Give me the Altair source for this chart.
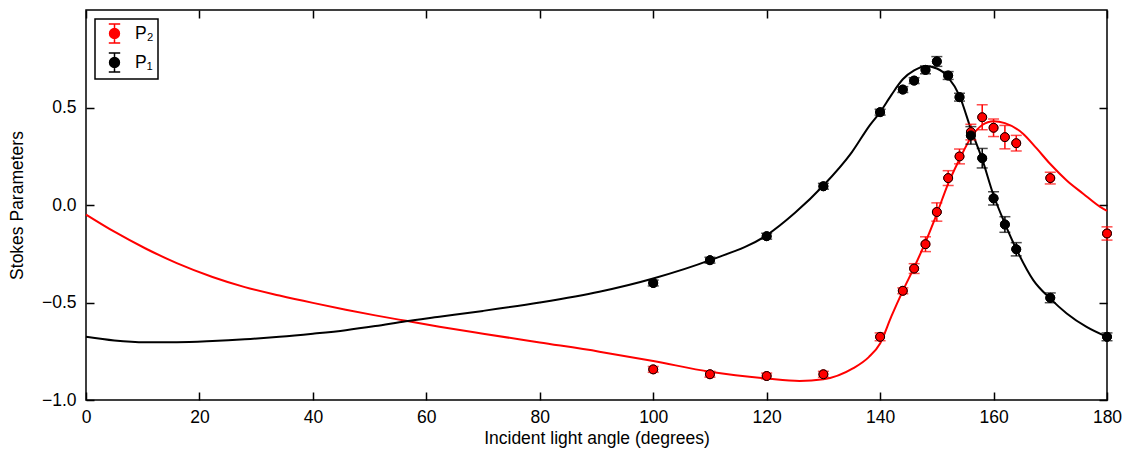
import altair as alt
import pandas as pd

# ---- measured data ----
angles = [100, 110, 120, 130, 140, 144, 146, 148, 150, 152, 154, 156, 158, 160, 162, 164, 170, 180]
p1 = [-0.40, -0.283, -0.16, 0.096, 0.476, 0.592, 0.638, 0.693, 0.736, 0.664, 0.553, 0.357, 0.24, 0.034, -0.10, -0.227, -0.476, -0.676]
p1_err = [0.015, 0.015, 0.015, 0.015, 0.015, 0.015, 0.015, 0.02, 0.025, 0.02, 0.02, 0.045, 0.05, 0.034, 0.04, 0.034, 0.025, 0.02]
p2 = [-0.843, -0.868, -0.877, -0.868, -0.676, -0.44, -0.326, -0.201, -0.036, 0.138, 0.249, 0.374, 0.45, 0.396, 0.348, 0.317, 0.138, -0.146]
p2_err = [0.015, 0.015, 0.015, 0.015, 0.02, 0.015, 0.025, 0.038, 0.047, 0.038, 0.038, 0.04, 0.064, 0.045, 0.06, 0.04, 0.03, 0.034]

fit1_x = [0, 5, 10.5, 16, 22.3, 28, 34.1, 40, 45.8, 51, 56.4, 62.3, 70, 80, 90.5, 100, 110, 120, 125, 130, 135,
          138.2, 140, 142, 144, 146, 148, 150, 152, 154, 156, 158, 160, 162, 164, 167, 170, 172.9, 176.4, 180]
fit1_y = [-0.676, -0.695, -0.704, -0.704, -0.698, -0.689, -0.676, -0.66, -0.642, -0.621, -0.596, -0.573, -0.543,
          -0.50, -0.445, -0.377, -0.283, -0.155, -0.04, 0.10, 0.27, 0.41, 0.476, 0.565, 0.645, 0.69, 0.712, 0.70,
          0.655, 0.56, 0.39, 0.235, 0.05, -0.095, -0.225, -0.385, -0.48, -0.556, -0.625, -0.676]

fit2_x = [0, 5, 10.5, 16, 22.3, 28, 34.1, 40, 45.8, 51, 56.4, 62.3, 70, 80, 90.5, 100, 110, 120, 125.8, 130, 135.2,
          138, 140, 142, 144, 146, 148, 150, 152, 154, 156, 158, 160, 162, 165.2, 167.6, 170, 172.9, 175.8, 178.8, 180]
fit2_y = [-0.049, -0.137, -0.223, -0.298, -0.369, -0.421, -0.464, -0.502, -0.537, -0.566, -0.594, -0.624, -0.66,
          -0.705, -0.752, -0.80, -0.855, -0.89, -0.903, -0.894, -0.838, -0.78, -0.71, -0.57, -0.44, -0.32, -0.19,
          -0.045, 0.11, 0.235, 0.345, 0.41, 0.43, 0.42, 0.366, 0.29, 0.21, 0.126, 0.058, -0.01, -0.03]

series_names = ["P\u2082", "P\u2081"]
series_colors = ["#ff0000", "#000000"]
x_ticks = [0, 20, 40, 60, 80, 100, 120, 140, 160, 180]
y_ticks = [-1.0, -0.5, 0.0, 0.5]

FONT = "Liberation Sans"
FS = 17.5

n = len(angles)
pts = pd.DataFrame({
    "angle": angles + angles,
    "value": p2 + p1,
    "lo": [v - e for v, e in zip(p2, p2_err)] + [v - e for v, e in zip(p1, p1_err)],
    "hi": [v + e for v, e in zip(p2, p2_err)] + [v + e for v, e in zip(p1, p1_err)],
    "series": [series_names[0]] * n + [series_names[1]] * n,
})
fits = pd.DataFrame({
    "angle": fit2_x + fit1_x,
    "value": fit2_y + fit1_y,
    "series": [series_names[0]] * len(fit2_x) + [series_names[1]] * len(fit1_x),
})

xs = alt.Scale(domain=[0, 180], nice=False, zero=False)
ys = alt.Scale(domain=[-1, 1], nice=False, zero=False)
cs = alt.Scale(domain=series_names, range=series_colors)


def X(field="angle"):
    return alt.X(f"{field}:Q", scale=xs, axis=None)


def Y(field="value"):
    return alt.Y(f"{field}:Q", scale=ys, axis=None)


line_layers, bar_layers, point_layers = [], [], []
for name, color in zip(series_names, series_colors):
    f = fits[fits.series == name]
    d = pts[pts.series == name]
    line_layers.append(
        alt.Chart(f).mark_line(color=color, strokeWidth=2, interpolate="monotone").encode(x=X(), y=Y())
    )
    bar_layers.append(
        alt.Chart(d).mark_rule(color=color, strokeWidth=1.5).encode(x=X(), y=Y("lo"), y2="hi:Q")
    )
    for fld in ("lo", "hi"):
        bar_layers.append(
            alt.Chart(d).mark_tick(color=color, orient="horizontal", size=11, thickness=1.5)
            .encode(x=X(), y=Y(fld))
        )
    point_layers.append(
        alt.Chart(d).mark_point(filled=True, fill=color, stroke="black", strokeWidth=1,
                                size=80, opacity=1).encode(x=X(), y=Y())
    )

SYM = ("M-0.6,-1L0.6,-1M0,-1L0,1M-0.6,1L0.6,1"
       "M0.52,0A0.52,0.52,0,1,1,-0.52,0A0.52,0.52,0,1,1,0.52,0Z")
leg = alt.Legend(orient="none", legendX=9, legendY=9, title=None, symbolType=SYM, symbolSize=361,
                 symbolStrokeWidth=1.5, symbolOffset=5, labelFont=FONT, labelFontSize=FS,
                 labelColor="black", labelOffset=10, rowPadding=4, padding=4,
                 strokeColor="black", fillColor="white")
legend_layer = alt.Chart(pts).mark_point(filled=True, size=80, opacity=1, strokeWidth=1).encode(
    x=X(), y=Y(),
    fill=alt.Fill("series:N", scale=cs, legend=leg),
    stroke=alt.Stroke("series:N", scale=cs, legend=leg),
)

# ---- axes ----
axis_labels = alt.Chart(pts).mark_point(opacity=0).encode(
    x=alt.X("angle:Q", scale=xs, axis=alt.Axis(
        orient="bottom", title="Incident light angle (degrees)", values=x_ticks, format="d",
        ticks=False, tickSize=0, domain=False, grid=False, labelFlush=False, labelOverlap=False,
        labelPadding=8, labelFont=FONT, labelFontSize=FS, labelColor="black",
        titleFont=FONT, titleFontSize=FS, titleFontWeight="normal", titleColor="black", titlePadding=4)),
    y=alt.Y("value:Q", scale=ys, axis=alt.Axis(
        orient="left", title="Stokes Parameters", values=y_ticks, format=".1f",
        ticks=False, tickSize=0, domain=False, grid=False, labelFlush=False, labelOverlap=False,
        labelPadding=10, labelFont=FONT, labelFontSize=FS, labelColor="black",
        titleFont=FONT, titleFontSize=FS, titleFontWeight="normal", titleColor="black", titlePadding=15)),
)


def tick_axis(orient, values):
    return alt.Axis(orient=orient, values=values, labels=False, domain=False, grid=False, ticks=True,
                    tickSize=8, tickWidth=1.5, tickColor="black", offset=-8, title=None)


axis_ticks_a = alt.Chart(pts).mark_point(opacity=0).encode(
    x=alt.X("angle:Q", scale=xs, axis=tick_axis("bottom", x_ticks)),
    y=alt.Y("value:Q", scale=ys, axis=tick_axis("left", y_ticks)),
)
axis_ticks_b = alt.Chart(pts).mark_point(opacity=0).encode(
    x=alt.X("angle:Q", scale=xs, axis=tick_axis("top", x_ticks)),
    y=alt.Y("value:Q", scale=ys, axis=tick_axis("right", y_ticks)),
)

chart = alt.layer(
    axis_labels, axis_ticks_a, axis_ticks_b,
    *line_layers, *bar_layers, legend_layer, *point_layers,
).resolve_axis(
    x="independent", y="independent"
).properties(
    width=1021, height=390,
    autosize=alt.AutoSizeParams(type="none"),
    padding={"left": 78, "top": 2, "right": 21, "bottom": 49},
).configure_view(
    stroke="black", strokeWidth=1.5
).configure_legend(
    strokeWidth=1.5
)

chart.save("out.html", embed_options={"renderer": "svg", "actions": False})
